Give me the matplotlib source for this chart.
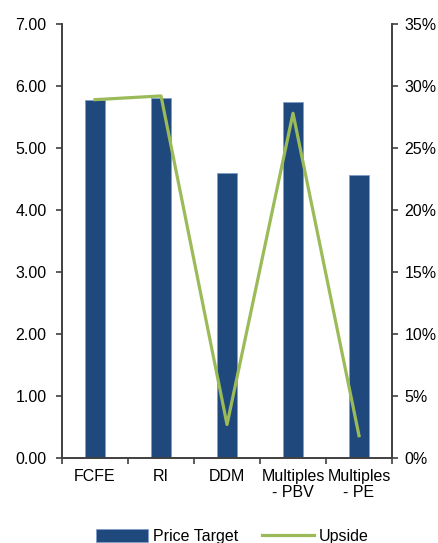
import matplotlib.pyplot as plt
import numpy as np
from matplotlib.ticker import FuncFormatter, PercentFormatter

plt.rcParams['font.family'] = ['Liberation Sans', 'DejaVu Sans']

methods = ['FCFE', 'RI', 'DDM', 'Multiples\n- PBV', 'Multiples\n- PE']
price_target = [5.77, 5.81, 4.60, 5.74, 4.57]
upside = [28.9, 29.2, 2.7, 27.8, 1.8]

bar_color = '#1F497D'
line_color = '#9BBB59'
axis_color = '#404040'
fs = 11.5

fig = plt.figure(figsize=(4.38, 5.43), dpi=100)
ax = fig.add_axes([0.1416, 0.1565, 0.7534, 0.7993])
ax2 = ax.twinx()

x = np.arange(len(methods))
bars = ax.bar(x, price_target, width=0.3, color=bar_color,
              edgecolor='#7F9FC8', linewidth=0.6, label='Price Target')
line, = ax2.plot(x, upside, color=line_color, linewidth=2.3, label='Upside')

ax.set_xlim(-0.5, len(methods) - 0.5)
ax.set_ylim(0, 7)
ax2.set_ylim(0, 35)
ax.set_yticks(np.arange(0, 7.01, 1))
ax2.set_yticks(np.arange(0, 35.01, 5))
ax.yaxis.set_major_formatter(FuncFormatter(lambda v, p: f'{v:.2f}'))
ax2.yaxis.set_major_formatter(PercentFormatter(decimals=0))

# category labels centred, tick marks on the boundaries
ax.set_xticks(x)
ax.set_xticklabels(methods, fontsize=fs, linespacing=1.05)
ax.set_xticks(np.arange(-0.5, len(methods)), minor=True)
ax.tick_params(axis='x', which='major', length=0, pad=8)
ax.tick_params(axis='x', which='minor', length=4, width=1.2, color=axis_color)

for a in (ax, ax2):
    a.spines['top'].set_visible(False)
    for s in ('left', 'right', 'bottom'):
        a.spines[s].set_color(axis_color)
        a.spines[s].set_linewidth(1.2)
    a.tick_params(axis='y', length=4, width=1.2, color=axis_color,
                  labelsize=fs, pad=7)
ax2.tick_params(axis='y', pad=5)

ax.patch.set_visible(False)

fig.legend(handles=[bars, line], loc='center', bbox_to_anchor=(0.53, 0.012),
           ncol=2, frameon=False, fontsize=fs, handlelength=3.25,
           handleheight=0.9, handletextpad=0.3, columnspacing=1.5)

fig.savefig('out.png', dpi=100)
